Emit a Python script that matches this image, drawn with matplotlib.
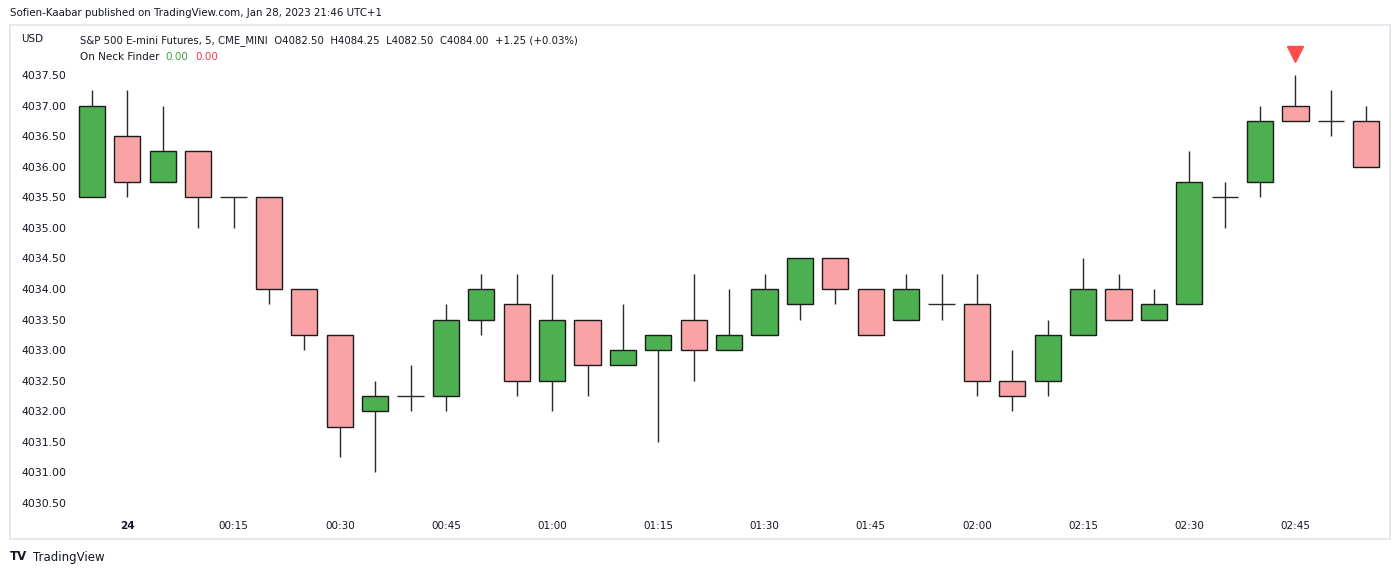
import numpy as np
import matplotlib
matplotlib.use("Agg")
import matplotlib.pyplot as plt

plt.rcParams["font.family"] = ["DejaVu Sans"]

# ── data (5 min bars, 23:55 .. 02:55) ─────────────
opens = [4035.50, 4036.50, 4035.75, 4036.25, 4035.50, 4035.50, 4034.00, 4033.25,
         4032.00, 4032.25, 4032.25, 4033.50, 4033.75, 4032.50, 4033.50, 4032.75,
         4033.00, 4033.50, 4033.00, 4033.25, 4033.75, 4034.50, 4034.00, 4033.50,
         4033.75, 4033.75, 4032.50, 4032.50, 4033.25, 4034.00, 4033.50, 4033.75,
         4035.50, 4035.75, 4037.00, 4036.75, 4036.75]
highs = [4037.25, 4037.25, 4037.00, 4036.25, 4035.50, 4035.50, 4034.00, 4033.25,
         4032.50, 4032.75, 4033.75, 4034.25, 4034.25, 4034.25, 4033.50, 4033.75,
         4033.25, 4034.25, 4034.00, 4034.25, 4034.50, 4034.50, 4034.00, 4034.25,
         4034.25, 4034.25, 4033.00, 4033.50, 4034.50, 4034.25, 4034.00, 4036.25,
         4035.75, 4037.00, 4037.50, 4037.25, 4037.00]
lows = [4035.50, 4035.50, 4035.75, 4035.00, 4035.00, 4033.75, 4033.00, 4031.25,
        4031.00, 4032.00, 4032.00, 4033.25, 4032.25, 4032.00, 4032.25, 4032.75,
        4031.50, 4032.50, 4033.00, 4033.25, 4033.50, 4033.75, 4033.25, 4033.50,
        4033.50, 4032.25, 4032.00, 4032.25, 4033.25, 4033.50, 4033.50, 4033.75,
        4035.00, 4035.50, 4036.75, 4036.50, 4036.00]
closes = [4037.00, 4035.75, 4036.25, 4035.50, 4035.50, 4034.00, 4033.25, 4031.75,
          4032.25, 4032.25, 4033.50, 4034.00, 4032.50, 4033.50, 4032.75, 4033.00,
          4033.25, 4033.00, 4033.25, 4034.00, 4034.50, 4034.00, 4033.25, 4034.00,
          4033.75, 4032.50, 4032.25, 4033.25, 4034.00, 4033.50, 4033.75, 4035.75,
          4035.50, 4036.75, 4036.75, 4036.75, 4036.00]
bear_signals = [34]          # bars flagged by the On Neck Finder

time_labels = ["24", "00:15", "00:30", "00:45", "01:00", "01:15",
               "01:30", "01:45", "02:00", "02:15", "02:30", "02:45"]
time_pos = [1 + 3 * i for i in range(len(time_labels))]
price_ticks = [4030.5 + 0.5 * i for i in range(15)]

# ── style ────────────────────────────────────────
GREEN = "#4caf50"
PINK = "#f9a3a6"
EDGE = "#1b1b1b"
WICK = "#2a2a2a"
FRAME = "#e6e8ee"
TXT = "#131722"

fig = plt.figure(figsize=(14, 5.73), dpi=100)
ax = fig.add_axes([10 / 1400, 34 / 573, 1380 / 1400, 514 / 573])

o = np.array(opens); h = np.array(highs); l = np.array(lows); c = np.array(closes)
x = np.arange(len(o))
w = 0.74

# wicks
ax.vlines(x, l, h, color=WICK, lw=1, zorder=1)

# bodies
body = np.abs(c - o)
up = c > o
down = c < o
ax.bar(x[up], body[up], w, bottom=o[up], color=GREEN, edgecolor=EDGE, lw=1, zorder=2)
ax.bar(x[down], body[down], w, bottom=c[down], color=PINK, edgecolor=EDGE, lw=1, zorder=2)
doji = c == o
ax.hlines(o[doji], x[doji] - w / 2, x[doji] + w / 2, color=WICK, lw=1, zorder=2)

# signal markers
for i in bear_signals:
    ax.plot(i, h[i] + 0.34, marker="v", ms=11, color="#ff4d4d", mec="#ff4d4d", zorder=3)

ax.set_xlim(-2.316, 36.67)
ax.set_ylim(4029.911, 4038.318)

ax.set_yticks(price_ticks)
ax.set_yticklabels([f"{v:.2f}" for v in price_ticks], ha="left")
ax.tick_params(axis="y", length=0, pad=-8, labelsize=7.8, labelcolor=TXT)

ax.set_xticks(time_pos)
ax.set_xticklabels(time_labels)
ax.tick_params(axis="x", length=0, pad=-13, labelsize=7.5, labelcolor=TXT)
ax.get_xticklabels()[0].set_fontweight("bold")

for s in ax.spines.values():
    s.set_color(FRAME)
    s.set_linewidth(1.5)

# ── texts ────────────────────────────────────────
fig.text(10 / 1400, 1 - 13 / 573, "Sofien-Kaabar published on TradingView.com, Jan 28, 2023 21:46 UTC+1",
         fontsize=7.4, color=TXT, va="center")
fig.text(21 / 1400, 1 - 39 / 573, "USD", fontsize=7.5, color=TXT, va="center")
fig.text(80 / 1400, 1 - 41 / 573,
         "S&P 500 E-mini Futures, 5, CME_MINI  O4082.50  H4084.25  L4082.50  C4084.00  +1.25 (+0.03%)",
         fontsize=7.3, color=TXT, va="center")
fig.text(80 / 1400, 1 - 57 / 573, "On Neck Finder", fontsize=7.5, color=TXT, va="center")
fig.text(165 / 1400, 1 - 57 / 573, "0.00", fontsize=7.5, color="#43a047", va="center")
fig.text(195 / 1400, 1 - 57 / 573, "0.00", fontsize=7.5, color="#f23645", va="center")

fig.text(10 / 1400, 1 - 557 / 573, "TV", fontsize=8.5, fontweight="heavy", color=TXT, va="center")
fig.text(33 / 1400, 1 - 557 / 573, "TradingView", fontsize=8.5, color=TXT, va="center")

fig.savefig("out.png", dpi=100, facecolor="white")
